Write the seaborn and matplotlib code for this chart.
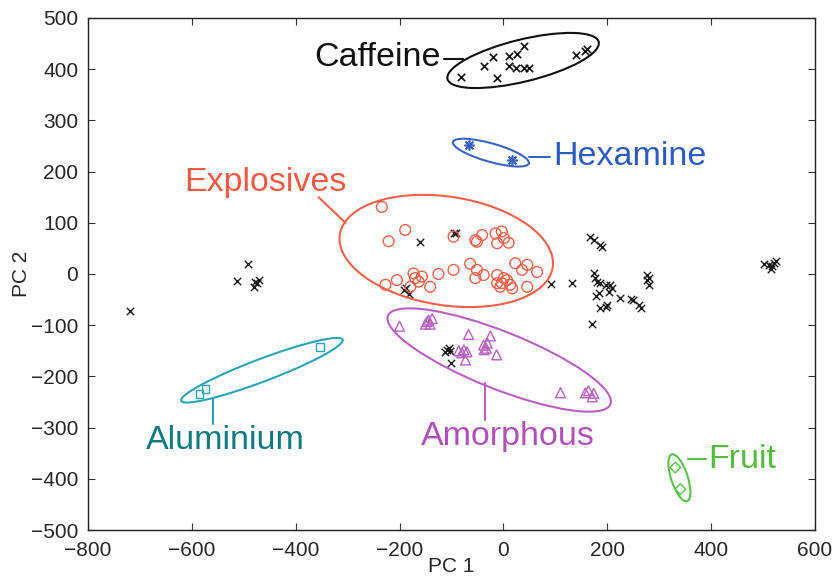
import matplotlib
matplotlib.use("Agg")
import matplotlib.pyplot as plt
from matplotlib.patches import Ellipse
import seaborn as sns
import pandas as pd

# PCA scores (PC 1, PC 2)
caffeine_x = [-81, -38, -20, -13, 10, 26, 39, 10, 25, 39, 49, 139, 158, 161]
caffeine_y = [385, 406, 423, 382, 425, 429, 446, 406, 403, 403, 403, 427, 436, 439]

hexamine_x = [-67, 17]
hexamine_y = [252, 223]

explosives_x = [-234, -189, -221, -96, -54, -41, -51, -15, -3, -12, 1, 10,
                -96, -125, -64, -51, -54, -38, -12, 1, -3, 7, 13, 17, -12, -6,
                23, 46, 65, 36, 46, -173, -157, -163, -179, -141, -205, -227, -170]
explosives_y = [131, 86, 64, 73, 66, 76, 63, 79, 83, 60, 70, 61,
                8, 0, 20, 8, -8, -2, -2, -8, -18, -12, -21, -28, -18, -25,
                21, 18, 4, 8, -25, 1, -5, -15, -25, -25, -12, -21, -8]

amorphous_x = [-200, -150, -144, -137, -141, -147, -67, -25, -86, -76, -70, -80,
               -73, -38, -33, -37, -31, -13, 110, 158, 164, 171, 174]
amorphous_y = [-102, -98, -90, -87, -98, -93, -118, -121, -150, -148, -152, -154,
               -168, -139, -145, -148, -135, -158, -232, -232, -228, -240, -233]

aluminium_x = [-353, -574, -585]
aluminium_y = [-143, -225, -234]

fruit_x = [331, 341]
fruit_y = [-378, -420]

other_x = [-161, -91, -95, -187, -182, -191, 91, 166, 174, 187, 190, 132,
           174, 177, 180, 187, 197, 206, 209, 203, 184, 179, 224, 245, 250, 261, 265,
           187, 197, 200, 171, 277, 280, 276, 280,
           502, 511, 518, 521, 526, 516,
           -719, -491, -513, -478, -475, -471, -480,
           -108, -105, -102, -112, -101]
other_y = [63, 81, 80, -28, -39, -31, -20, 72, 66, 57, 53, -18,
           1, -8, -15, -18, -21, -21, -28, -35, -38, -43, -47, -49, -51, -61, -67,
           -67, -65, -61, -98, -2, -8, -12, -21,
           20, 18, 16, 22, 26, 9,
           -72, 20, -14, -15, -18, -12, -25,
           -148, -145, -150, -152, -173]

groups = ["Caffeine", "Hexamine", "Explosives", "Amorphous", "Aluminium", "Fruit"]
colors = ["#111111", "#3a64c4", "#f0604a", "#b860c0", "#2aa3b5", "#5cc04a"]
text_colors = ["#111111", "#2b5bbf", "#f05a44", "#b050b8", "#10787f", "#55bb40"]
markers = ["x", (8, 2, 0), "o", "^", "s", "D"]
marker_sizes = [28, 45, 60, 50, 30, 30]
xs = [caffeine_x, hexamine_x, explosives_x, amorphous_x, aluminium_x, fruit_x]
ys = [caffeine_y, hexamine_y, explosives_y, amorphous_y, aluminium_y, fruit_y]

# hand-drawn enclosing ellipses: centre x, centre y, width, height, angle
ellipses = [(38, 417, 300, 82, 14), (-24, 237, 152, 36, -16),
            (-110, 45, 415, 212, -9), (-8, -168, 462, 112, -22),
            (-465, -188, 333, 44, 21), (339, -398, 96, 32, -72)]
# label text positions and leader lines
label_pos = [(-121, 422, "right"), (96, 229, "left"), (-459, 178, "center"),
             (8, -318, "center"), (-536, -326, "center"), (395, -363, "left")]
leaders = [([-114, -78], [420, 420]), ([50, 90], [229, 229]),
           ([-356, -304], [150, 100]), ([-35, -35], [-212, -285]),
           ([-559, -559], [-244, -292]), ([356, 391], [-361, -361])]

sns.set_style("white")
plt.rcParams["font.family"] = ["Liberation Sans", "DejaVu Sans"]

fig = plt.figure(figsize=(8.33, 5.8), dpi=100)
ax = fig.add_axes([0.1056, 0.0862, 0.8727, 0.8828])

other = pd.DataFrame({"PC 1": other_x, "PC 2": other_y})
sns.scatterplot(data=other, x="PC 1", y="PC 2", marker="x", color="#1a1a1a",
                s=28, linewidth=1.0, ax=ax, legend=False)

for g, c, tc, m, ms, gx, gy, el, lp, ld in zip(groups, colors, text_colors, markers,
                                                 marker_sizes, xs, ys, ellipses,
                                                 label_pos, leaders):
    df = pd.DataFrame({"PC 1": gx, "PC 2": gy})
    if g in ("Caffeine", "Hexamine"):
        sns.scatterplot(data=df, x="PC 1", y="PC 2", marker=m, color=c, s=ms,
                        linewidth=1.2, ax=ax, legend=False)
    else:
        sns.scatterplot(data=df, x="PC 1", y="PC 2", marker=m, facecolor="none",
                        edgecolor=c, s=ms, linewidth=1.0, ax=ax, legend=False)
    ax.add_patch(Ellipse((el[0], el[1]), el[2], el[3], angle=el[4],
                         fill=False, edgecolor=c, linewidth=1.5))
    ax.plot(ld[0], ld[1], color=c, linewidth=1.5)
    ax.text(lp[0], lp[1], g, color=tc, fontsize=24.5, ha=lp[2], va="center")

ax.set_xlim(-800, 600)
ax.set_ylim(-500, 500)
ax.set_xticks(range(-800, 601, 200))
ax.set_yticks(range(-500, 501, 100))
ax.tick_params(direction="in", length=5, labelsize=15, top=True, right=True,
               bottom=True, left=True, color="#333333")
ax.tick_params(axis="x", pad=8)
ax.tick_params(axis="y", pad=7)
for sp in ax.spines.values():
    sp.set_color("#222222")
    sp.set_linewidth(1.0)
ax.set_xlabel("PC 1", fontsize=15, labelpad=-2)
ax.set_ylabel("PC 2", fontsize=15, labelpad=0)

fig.savefig("out.png", dpi=100)
